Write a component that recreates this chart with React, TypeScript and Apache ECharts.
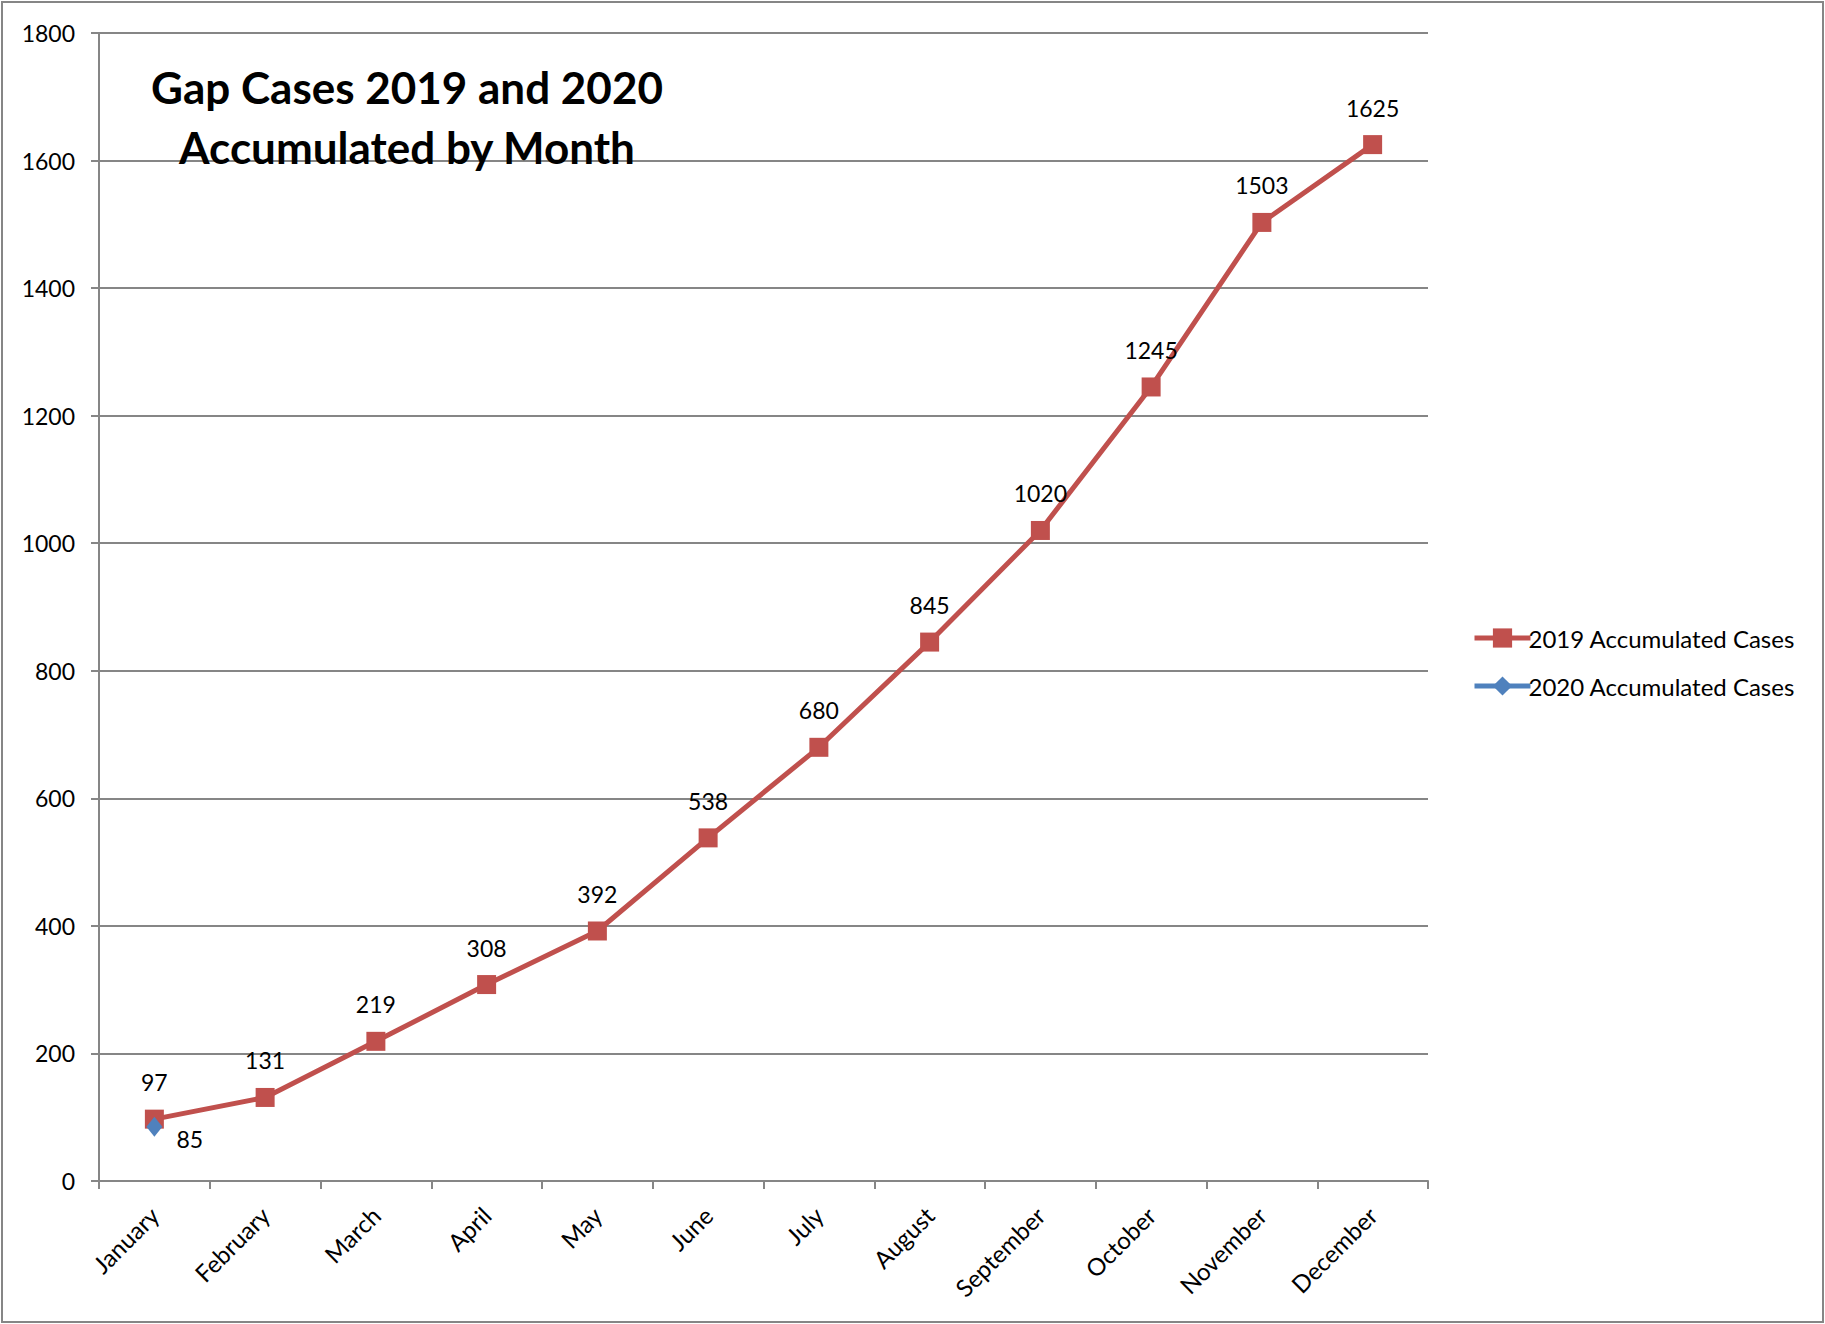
import React, { useEffect, useRef } from "react";
import * as echarts from "echarts";

const months = ["January", "February", "March", "April", "May", "June", "July", "August", "September", "October", "November", "December"];
const cases2019 = [97, 131, 219, 308, 392, 538, 680, 845, 1020, 1245, 1503, 1625];
const cases2020: (number | null)[] = [85, null, null, null, null, null, null, null, null, null, null, null];
const yTicks = { min: 0, max: 1800, interval: 200 };

const FONT = "Lato, 'Open Sans', sans-serif";
const RED = "#C0504D";
const BLUE = "#4F81BD";
const GRAY = "#868686";

export default function App() {
  const ref = useRef<HTMLDivElement>(null);
  useEffect(() => {
    document.body.style.margin = "0";
    const chart = echarts.init(ref.current!, null, { renderer: "svg" });
    chart.setOption({
      animation: false,
      backgroundColor: "#ffffff",
      textStyle: { fontFamily: FONT },
      title: {
        text: "Gap Cases 2019 and 2020\nAccumulated by Month",
        left: 402,
        top: 52,
        textAlign: "center",
        textStyle: { fontFamily: FONT, fontSize: 44, fontWeight: "bold", color: "#000", lineHeight: 60 },
      },
      graphic: [
        {
          type: "rect",
          shape: { x: 2, y: 2, width: 1821, height: 1320 },
          style: { fill: "none", stroke: GRAY, lineWidth: 2 },
          silent: true,
        },
      ],
      legend: {
        orient: "vertical",
        left: 1467,
        top: 621,
        itemWidth: 56,
        itemHeight: 24,
        itemGap: 24,
        lineStyle: { width: 5 },
        textStyle: { fontFamily: FONT, fontSize: 24, color: "#000", padding: [0, 0, 0, -7] },
        data: ["2019 Accumulated Cases", "2020 Accumulated Cases"],
      },
      grid: { left: 99, right: 397, top: 33, bottom: 143, containLabel: false },
      xAxis: {
        type: "category",
        data: months,
        boundaryGap: true,
        axisLine: { lineStyle: { color: GRAY, width: 2 } },
        axisTick: { show: true, length: 8, lineStyle: { color: GRAY, width: 2 } },
        axisLabel: { rotate: 45, margin: 30, fontSize: 24, color: "#000", fontFamily: FONT },
      },
      yAxis: {
        type: "value",
        min: yTicks.min,
        max: yTicks.max,
        interval: yTicks.interval,
        axisLine: { show: true, lineStyle: { color: GRAY, width: 2 } },
        axisTick: { show: true, length: 8, lineStyle: { color: GRAY, width: 2 } },
        axisLabel: { margin: 24, fontSize: 23, color: "#000", fontFamily: FONT, formatter: (v: number) => String(v) },
        splitLine: { show: true, lineStyle: { color: GRAY, width: 2 } },
      },
      series: [
        {
          name: "2019 Accumulated Cases",
          type: "line",
          data: cases2019,
          symbol: "rect",
          symbolSize: 19,
          itemStyle: { color: RED },
          lineStyle: { color: RED, width: 5 },
          label: { show: true, position: "top", distance: 16, fontSize: 23, color: "#000", fontFamily: FONT },
          z: 2,
        },
        {
          name: "2020 Accumulated Cases",
          type: "line",
          data: cases2020,
          symbol: "diamond",
          symbolSize: [16, 20],
          itemStyle: { color: BLUE },
          lineStyle: { color: BLUE, width: 5 },
          label: { show: true, position: "right", distance: 14, offset: [0, 12], fontSize: 23, color: "#000", fontFamily: FONT },
          z: 3,
        },
      ],
    });
    return () => chart.dispose();
  }, []);
  return <div ref={ref} style={{ width: 1825, height: 1324 }} />;
}
